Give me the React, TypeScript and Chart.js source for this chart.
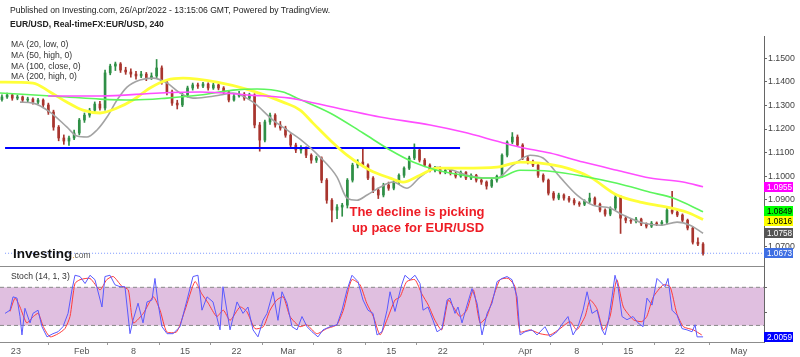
import React, { useEffect, useRef } from 'react';
import { Chart, registerables } from 'chart.js';

Chart.register(...registerables);

const FONT = '"Liberation Sans", Arial, Helvetica, sans-serif';

// ---- x axis: trading days since Sun 23 Jan 2022 (weekends removed) ----
const X_MIN = -1.94;
const X_MAX = 72.16;
const xTickDays = [-0.4, 6, 11, 16, 21, 26, 31, 36, 41, 49, 54, 59, 64, 69.7];
const xTickLabels = ['23', 'Feb', '8', '15', '22', 'Mar', '8', '15', '22', 'Apr', '8', '15', '22', 'May'];

// ---- price axis ----
const Y_MIN = 1.02966;
const Y_MAX = 1.15946;
const PANE_SPLIT = 1.0618;
const priceTicks = [1.15, 1.14, 1.13, 1.12, 1.11, 1.1, 1.09, 1.07];

// ---- stochastic axis ----
const S_MIN = -6.1;
const S_MAX = 475.8;
const stochTicks = [80, 40];
const STOCH_UPPER = 80;
const STOCH_LOWER = 20;

// ---- candles (12h resolution) ----
const FIRST_BAR_DAY = -1.75;
const BAR_DAYS = 0.5;
const opens = [
  1.1325, 1.1336, 1.1344, 1.1331, 1.1336, 1.1323, 1.1327, 1.1314, 1.1323, 1.1302,
  1.1272, 1.1208, 1.1162, 1.1149, 1.1162, 1.1183, 1.1238, 1.1259, 1.128, 1.1306,
  1.1289, 1.1438, 1.1467, 1.1476, 1.145, 1.1442, 1.1433, 1.1425, 1.1433, 1.1416,
  1.1425, 1.1459, 1.1399, 1.1357, 1.131, 1.1302, 1.1344, 1.1374, 1.1387, 1.1382,
  1.1391, 1.1374, 1.1387, 1.1374, 1.1357, 1.1323, 1.134, 1.1348, 1.1331, 1.1344,
  1.1217, 1.1153, 1.123, 1.1259, 1.1217, 1.1204, 1.1174, 1.1132, 1.1111, 1.1119,
  1.1089, 1.1068, 1.1077, 1.0983, 1.0898, 1.0856, 1.0869, 1.0877, 1.0983, 1.1047,
  1.106, 1.1047, 1.0992, 1.0941, 1.092, 1.0962, 1.0949, 1.0975, 1.1004, 1.1034,
  1.1077, 1.1111, 1.1068, 1.1047, 1.1025, 1.1034, 1.1017, 1.1025, 1.1012, 1.1,
  1.1017, 1.0992, 1.1004, 1.0983, 1.0975, 1.0958, 1.0983, 1.1, 1.1089, 1.1145,
  1.1166, 1.1132, 1.1077, 1.106, 1.1047, 1.1004, 1.0983, 1.0928, 1.0907, 1.092,
  1.0907, 1.0898, 1.0886, 1.0881, 1.0894, 1.0907, 1.0881, 1.0856, 1.0839, 1.0865,
  1.0911, 1.0822, 1.0813, 1.0809, 1.0818, 1.0797, 1.0788, 1.0801, 1.0797, 1.0805,
  1.0856, 1.0847, 1.0835, 1.0813, 1.078, 1.072, 1.0712,
];
const highs = [
  1.1345, 1.1352, 1.135, 1.1344, 1.134, 1.1335, 1.1332, 1.133, 1.1328, 1.131,
  1.128, 1.1215, 1.1175, 1.117, 1.1195, 1.1245, 1.1268, 1.1288, 1.1315, 1.1318,
  1.145, 1.1475, 1.1484, 1.1482, 1.1462, 1.1455, 1.1445, 1.1445, 1.144, 1.1438,
  1.1495, 1.1468, 1.1405, 1.1365, 1.1322, 1.1352, 1.1382, 1.1395, 1.1395, 1.1398,
  1.1396, 1.1395, 1.1392, 1.138, 1.1362, 1.1348, 1.136, 1.1355, 1.1352, 1.135,
  1.1228, 1.1238, 1.1268, 1.1265, 1.1232, 1.1212, 1.118, 1.114, 1.113, 1.1125,
  1.1095, 1.1085, 1.1082, 1.099, 1.0905, 1.088, 1.0885, 1.099, 1.1055, 1.107,
  1.112, 1.1052, 1.0998, 1.095, 1.097, 1.0975, 1.0982, 1.101, 1.104, 1.1085,
  1.1137, 1.1118, 1.1075, 1.1052, 1.1042, 1.104, 1.1032, 1.103, 1.1018, 1.1022,
  1.102, 1.101, 1.1008, 1.099, 1.098, 1.099, 1.1005, 1.1095, 1.115, 1.1185,
  1.1175, 1.1138, 1.1085, 1.1068, 1.1052, 1.101, 1.0988, 1.0935, 1.0928, 1.0925,
  1.0915, 1.0905, 1.0892, 1.09, 1.0928, 1.0912, 1.0886, 1.0862, 1.087, 1.0925,
  1.0918, 1.083, 1.082, 1.0825, 1.0822, 1.0802, 1.0808, 1.0806, 1.0812, 1.0865,
  1.0936, 1.0855, 1.084, 1.0818, 1.0785, 1.0738, 1.0718,
];
const lows = [
  1.1318, 1.133, 1.1322, 1.1324, 1.1315, 1.1316, 1.1305, 1.1308, 1.129, 1.1262,
  1.1195, 1.115, 1.1135, 1.113, 1.1155, 1.1175, 1.1228, 1.125, 1.1272, 1.128,
  1.128, 1.143, 1.1448, 1.144, 1.1432, 1.142, 1.1412, 1.1418, 1.1405, 1.141,
  1.1418, 1.139, 1.1345, 1.13, 1.1285, 1.1295, 1.1335, 1.1365, 1.1372, 1.1375,
  1.1365, 1.1368, 1.1366, 1.1348, 1.1315, 1.1318, 1.1335, 1.1322, 1.1325, 1.1205,
  1.1106, 1.1145, 1.122, 1.1208, 1.1195, 1.1165, 1.1125, 1.11, 1.1098, 1.1078,
  1.1055, 1.1058, 1.0972, 1.0885, 1.0806, 1.082, 1.083, 1.0865, 1.0975, 1.1035,
  1.104, 1.0985, 1.093, 1.0905, 1.0912, 1.094, 1.0942, 1.0968, 1.0995, 1.1028,
  1.107, 1.106, 1.104, 1.1018, 1.1018, 1.101, 1.101, 1.1005, 1.0992, 1.0995,
  1.0985, 1.0985, 1.0975, 1.0965, 1.0945, 1.0952, 1.0975, 1.0995, 1.1082, 1.1138,
  1.1125, 1.107, 1.1052, 1.104, 1.0995, 1.0975, 1.092, 1.0898, 1.09, 1.0898,
  1.089, 1.0878, 1.0872, 1.0875, 1.0888, 1.0875, 1.0848, 1.083, 1.0832, 1.0858,
  1.0757, 1.0802, 1.08, 1.0802, 1.079, 1.078, 1.0782, 1.079, 1.079, 1.0798,
  1.084, 1.0828, 1.0805, 1.0772, 1.0712, 1.0705, 1.0665,
];
const closes = [
  1.1336, 1.1344, 1.1331, 1.1336, 1.1323, 1.1327, 1.1314, 1.1323, 1.1302, 1.1272,
  1.1208, 1.1162, 1.1149, 1.1162, 1.1183, 1.1238, 1.1259, 1.128, 1.1306, 1.1289,
  1.1438, 1.1467, 1.1476, 1.145, 1.1442, 1.1433, 1.1425, 1.1433, 1.1416, 1.1425,
  1.1459, 1.1399, 1.1357, 1.131, 1.1302, 1.1344, 1.1374, 1.1387, 1.1382, 1.1391,
  1.1374, 1.1387, 1.1374, 1.1357, 1.1323, 1.134, 1.1348, 1.1331, 1.1344, 1.1217,
  1.1153, 1.123, 1.1259, 1.1217, 1.1204, 1.1174, 1.1132, 1.1111, 1.1119, 1.1089,
  1.1068, 1.1077, 1.0983, 1.0898, 1.0856, 1.0869, 1.0877, 1.0983, 1.1047, 1.106,
  1.1047, 1.0992, 1.0941, 1.092, 1.0962, 1.0949, 1.0975, 1.1004, 1.1034, 1.1077,
  1.1111, 1.1068, 1.1047, 1.1025, 1.1034, 1.1017, 1.1025, 1.1012, 1.1, 1.1017,
  1.0992, 1.1004, 1.0983, 1.0975, 1.0958, 1.0983, 1.1, 1.1089, 1.1145, 1.1166,
  1.1132, 1.1077, 1.106, 1.1047, 1.1004, 1.0983, 1.0928, 1.0907, 1.092, 1.0907,
  1.0898, 1.0886, 1.0881, 1.0894, 1.0907, 1.0881, 1.0856, 1.0839, 1.0865, 1.0911,
  1.0822, 1.0813, 1.0809, 1.0818, 1.0797, 1.0788, 1.0801, 1.0797, 1.0805, 1.0856,
  1.0847, 1.0835, 1.0813, 1.078, 1.072, 1.0712, 1.0673,
];

// ---- moving averages ----
const ma20Days = [0, 1.26, 2.91, 4.56, 5.53, 6.5, 7.47, 8.44, 9.41, 10.38, 11.64, 12.9, 14.26, 15.52, 16.78, 18.14, 19.4, 20.66, 22.6, 24.54, 26.19, 27.16, 29.1, 30.75, 31.72, 32.69, 33.66, 34.92, 36.18, 37.54, 38.8, 40.45, 42.0, 43.36, 45.3, 46.27, 47.82, 49.47, 50.73, 52.38, 54.03, 55.58, 57.23, 58.49, 60.43, 62.08, 63.73, 64.99, 66.25];
const ma20 = [1.1314, 1.131, 1.1272, 1.1208, 1.117, 1.1166, 1.1196, 1.1251, 1.1323, 1.1378, 1.1408, 1.1416, 1.1395, 1.1353, 1.1331, 1.1336, 1.1344, 1.1353, 1.1314, 1.1238, 1.1187, 1.1157, 1.1081, 1.0996, 1.0907, 1.0898, 1.092, 1.0953, 1.0975, 1.0949, 1.0996, 1.1038, 1.1025, 1.1004, 1.0992, 1.0992, 1.1047, 1.1089, 1.1077, 1.0996, 1.092, 1.0877, 1.0865, 1.0835, 1.0801, 1.0792, 1.0805, 1.0792, 1.0758];
const ma50Days = [-1.94, 1.26, 2.91, 4.56, 6.11, 7.76, 9.41, 10.96, 12.61, 14.26, 15.81, 19.11, 22.31, 25.51, 27.16, 28.42, 30.07, 31.72, 33.95, 35.89, 37.15, 38.8, 40.45, 42.97, 46.27, 48.5, 50.44, 53.06, 55.29, 57.9, 60.14, 62.75, 64.69, 66.25];
const ma50 = [1.1399, 1.1395, 1.1357, 1.1314, 1.128, 1.1268, 1.1289, 1.1323, 1.1374, 1.1408, 1.1416, 1.1399, 1.1365, 1.1314, 1.128, 1.1225, 1.1153, 1.1089, 1.1025, 1.0992, 1.0975, 1.1004, 1.1034, 1.1034, 1.1038, 1.106, 1.1055, 1.1034, 1.0996, 1.092, 1.089, 1.0869, 1.0847, 1.0816];
const ma100Days = [-1.94, 4.56, 7.76, 10.96, 14.26, 17.46, 20.66, 22.99, 25.51, 26.87, 30.07, 33.27, 35.89, 38.12, 40.45, 42.97, 44.62, 46.27, 48.5, 51.41, 54.61, 57.9, 61.11, 63.34, 66.25];
const ma100 = [1.1353, 1.1336, 1.1327, 1.1323, 1.1331, 1.1344, 1.1365, 1.137, 1.1357, 1.1331, 1.1268, 1.1183, 1.1111, 1.106, 1.1025, 1.1004, 1.0992, 1.0992, 1.1025, 1.1021, 1.1, 1.097, 1.0932, 1.0907, 1.0849];
const ma200Days = [2.72, 7.76, 13.58, 17.46, 22.31, 26.19, 27.16, 31.72, 34.92, 39.77, 42.97, 46.56, 48.5, 51.41, 54.61, 57.9, 61.11, 64.31, 66.25];
const ma200 = [1.134, 1.134, 1.1353, 1.1357, 1.1344, 1.1331, 1.1323, 1.128, 1.1251, 1.1217, 1.1187, 1.1145, 1.1123, 1.1098, 1.106, 1.1025, 1.0992, 1.0975, 1.0955];

// ---- horizontal support / resistance ----
const supportLevel = 1.112;
const supportFrom = -1.45;
const supportTo = 42.68;

// ---- stochastic (14,1,3) ----
const stochKDays = [
  -1.45, -0.97, -0.68, -0.29, 0, 0.19, 0.48, 0.97, 1.26, 1.75, 2.13, 2.62, 3.2, 3.69, 4.17, 4.66, 5.04, 5.33, 5.82, 6.31,
  6.79, 7.27, 7.95, 8.24, 8.73, 9.21, 9.7, 10.18, 10.67, 10.96, 11.45, 11.93, 12.32, 12.8, 13.09, 13.39, 13.77, 14.26, 14.84, 15.52,
  16.2, 16.78, 17.26, 17.65, 18.14, 18.72, 19.4, 19.69, 20.37, 21.05, 21.63, 22.11, 22.6, 23.08, 23.57, 23.96, 24.54, 25.02, 25.41, 25.9,
  26.38, 26.87, 27.35, 27.84, 28.32, 28.9, 29.39, 30.07, 30.75, 31.23, 31.72, 32.2, 32.78, 33.27, 33.75, 34.24, 34.63, 35.11, 35.6, 35.89,
  36.37, 37.02, 37.34, 37.83, 38.31, 38.8, 39.09, 39.57, 40.06, 40.45, 40.93, 41.42, 41.71, 42.19, 42.48, 42.87, 43.36, 43.84, 44.33, 44.81,
  45.3, 45.78, 46.27, 46.75, 47.24, 47.72, 48.21, 48.5, 48.98, 49.66, 50.15, 50.92, 51.41, 52.09, 52.67, 53.15, 53.64, 54.12, 54.61, 55.0,
  55.48, 55.97, 56.45, 56.74, 57.03, 57.42, 57.71, 58.0, 58.39, 58.87, 59.46, 59.94, 60.43, 60.81, 61.3, 61.78, 62.27, 62.56, 62.85, 63.24,
  63.73, 64.21, 64.69, 65.18, 65.47, 65.67, 66.25,
];
const stochK = [
  39, 44, 65, 63, 34, 5, 47, 24, 39, 44, 18, 2, 7, 10, 18, 39, 76, 99, 97, 86,
  99, 92, 49, 97, 99, 84, 81, 81, 7, 28, 55, 24, 57, 60, 94, 55, 18, 7, 7, 18,
  60, 97, 99, 44, 65, 57, 13, 81, 13, 57, 39, 49, 13, 2, 28, 39, 73, 28, 73, 55,
  18, 13, 34, 18, 10, 2, 13, 18, 21, 44, 76, 99, 89, 60, 44, 39, 5, 10, 44, 73,
  42, 84, 99, 92, 99, 86, 44, 49, 28, 10, 15, 60, 63, 39, 49, 24, 52, 78, 55, 5,
  39, 55, 89, 94, 97, 92, 65, 5, 10, 13, 5, 18, 2, 10, 24, 34, 5, 18, 44, 73,
  39, 44, 13, 5, 24, 65, 99, 81, 34, 29, 34, 24, 18, 63, 52, 94, 86, 81, 94, 44,
  36, 15, 13, 10, 21, 2, 2.0059,
];
const stochDDays = [
  -0.97, -0.48, 0, 0.65, 1.29, 1.77, 2.26, 2.91, 3.71, 4.36, 4.85, 5.33, 5.82, 6.79, 7.76, 8.41, 9.05, 9.86, 10.5, 10.99,
  11.96, 12.93, 13.58, 14.23, 15.2, 16.0, 16.97, 17.62, 18.26, 19.08, 19.72, 20.37, 21.34, 21.99, 22.79, 23.6, 24.25, 24.9, 25.54, 26.19,
  27.16, 27.81, 28.78, 29.75, 30.72, 31.36, 32.17, 32.98, 33.63, 34.27, 34.92, 35.57, 36.37, 36.86, 37.51, 38.31, 38.96, 39.6, 40.25, 40.9,
  41.54, 42.03, 42.68, 43.33, 43.97, 44.62, 45.27, 45.91, 46.56, 47.36, 48.01, 48.5, 49.47, 50.44, 51.41, 52.38, 53.35, 54.0, 54.8, 55.29,
  55.94, 56.58, 57.23, 57.88, 58.52, 59.49, 60.3, 60.79, 61.43, 62.4, 63.05, 63.7, 64.34, 65.31, 66.12,
];
const stochD = [
  42, 63, 49, 24, 34, 39, 18, 2, 7, 15, 34, 86, 92, 94, 76, 92, 97, 82, 76, 24,
  39, 65, 44, 10, 10, 44, 89, 70, 55, 34, 44, 28, 49, 42, 15, 18, 44, 60, 65, 34,
  18, 21, 7, 15, 21, 44, 92, 84, 55, 34, 5, 28, 60, 65, 89, 92, 70, 52, 28, 13,
  60, 49, 34, 44, 76, 24, 34, 65, 92, 94, 81, 10, 13, 7, 5, 15, 26, 13, 34, 60,
  47, 13, 34, 92, 49, 29, 26, 34, 65, 84, 81, 39, 18, 13, 5,
];

const headerLine1 = 'Published on Investing.com, 26/Apr/2022 - 13:15:06 GMT, Powered by TradingView.';
const headerLine2 = 'EUR/USD, Real-timeFX:EUR/USD, 240';
const legendLines = ['MA (20, low, 0)', 'MA (50, high, 0)', 'MA (100, close, 0)', 'MA (200, high, 0)'];
const stochTitle = 'Stoch (14, 1, 3)';
const noteLines = ['The decline is picking', 'up pace for EUR/USD'];

const UP = '#2f8f46';
const DOWN = '#a8352e';
const C_MA20 = '#a3a3a3';
const C_MA50 = '#ffff38';
const C_MA100 = '#5cf55c';
const C_MA200 = '#ff4dff';

const pts = (xs: number[], ys: number[]) => xs.map((x, i) => ({ x, y: ys[i] }));

const overlayPlugin = {
  id: 'overlay',
  afterDraw(chart: any) {
    const { ctx, chartArea, scales } = chart;
    const y = scales.y;
    const y2 = scales.y2;
    ctx.save();

    // pane separator
    const sep = Math.round(y.getPixelForValue(PANE_SPLIT)) + 0.5;
    ctx.strokeStyle = '#8c8c8c';
    ctx.lineWidth = 1;
    ctx.beginPath();
    ctx.moveTo(chartArea.left, sep);
    ctx.lineTo(chartArea.right, sep);
    ctx.stroke();

    // header
    ctx.textBaseline = 'middle';
    ctx.textAlign = 'left';
    ctx.fillStyle = '#222';
    ctx.font = `8.6px ${FONT}`;
    ctx.fillText(headerLine1, 10, 11);
    ctx.font = `bold 8.6px ${FONT}`;
    ctx.fillText(headerLine2, 10, 25);

    ctx.font = `8.6px ${FONT}`;
    ctx.fillStyle = '#333';
    legendLines.forEach((t, i) => ctx.fillText(t, 11, 45 + i * 10.6));
    ctx.fillText(stochTitle, 11, 276.5);

    // logo
    ctx.textBaseline = 'alphabetic';
    ctx.font = `bold 13.5px ${FONT}`;
    ctx.fillStyle = '#111';
    ctx.fillText('Investing', 13, 258);
    const w = ctx.measureText('Investing').width;
    ctx.font = `8.5px ${FONT}`;
    ctx.fillStyle = '#f39c12';
    ctx.fillText('.', 13 + w, 258);
    const wd = ctx.measureText('.').width;
    ctx.fillStyle = '#555';
    ctx.fillText('com', 13 + w + wd, 258);

    // annotation
    ctx.textAlign = 'center';
    ctx.textBaseline = 'middle';
    ctx.font = `bold 13px ${FONT}`;
    ctx.fillStyle = '#ee1c25';
    ctx.fillText(noteLines[0], 417, 212);
    ctx.fillText(noteLines[1], 418, 228);

    // value boxes on the price axis
    const H = 10;
    const boxes = [
      { v: ma200[ma200.length - 1], bg: '#ff00ff', fg: '#ffffff' },
      { v: ma100[ma100.length - 1], bg: '#00ff00', fg: '#000000' },
      { v: ma50[ma50.length - 1], bg: '#ffff00', fg: '#000000' },
      { v: ma20[ma20.length - 1], bg: '#555555', fg: '#ffffff' },
      { v: closes[closes.length - 1], bg: '#3f6fe3', fg: '#ffffff' },
    ].map((b) => ({ ...b, py: y.getPixelForValue(b.v) }));
    boxes.sort((a, b) => a.py - b.py);
    for (let k = 0; k < 4; k++) {
      for (let i = 1; i < boxes.length; i++) {
        const d = boxes[i].py - boxes[i - 1].py;
        if (d < H) {
          const s = (H - d) / 2;
          boxes[i - 1].py -= s;
          boxes[i].py += s;
        }
      }
    }
    const drawBox = (py: number, bg: string, fg: string, text: string) => {
      const top = Math.round(py - H / 2);
      ctx.fillStyle = bg;
      ctx.fillRect(chartArea.right, top, 29, H);
      ctx.fillStyle = fg;
      ctx.font = `8.2px ${FONT}`;
      ctx.textAlign = 'left';
      ctx.textBaseline = 'middle';
      ctx.fillText(text, chartArea.right + 3, top + H / 2 + 0.5);
    };
    boxes.forEach((b) => drawBox(b.py, b.bg, b.fg, b.v.toFixed(4)));
    const lastK = stochK[stochK.length - 1];
    drawBox(y2.getPixelForValue(lastK), '#0000ff', '#ffffff', lastK.toFixed(4));

    ctx.restore();
  },
};

export default function App() {
  const ref = useRef<HTMLCanvasElement | null>(null);

  useEffect(() => {
    document.body.style.margin = '0';
    const canvas = ref.current;
    if (!canvas) return;

    const candleDays = closes.map((_, i) => FIRST_BAR_DAY + i * BAR_DAYS);
    const colors = closes.map((c, i) => (c >= opens[i] ? UP : DOWN));

    const chart = new Chart(canvas, {
      type: 'line',
      data: {
        datasets: [
          // stochastic band
          {
            type: 'line',
            data: [{ x: X_MIN, y: STOCH_UPPER }, { x: X_MAX, y: STOCH_UPPER }],
            yAxisID: 'y2',
            borderColor: '#8a8a8a',
            borderWidth: 1,
            borderDash: [4, 3],
            backgroundColor: '#e0bfe0',
            fill: { value: STOCH_LOWER },
            pointRadius: 0,
            order: 20,
          },
          {
            type: 'line',
            data: [{ x: X_MIN, y: STOCH_LOWER }, { x: X_MAX, y: STOCH_LOWER }],
            yAxisID: 'y2',
            borderColor: '#8a8a8a',
            borderWidth: 1,
            borderDash: [4, 3],
            fill: false,
            pointRadius: 0,
            order: 19,
          },
          {
            type: 'line',
            data: pts(stochDDays, stochD),
            yAxisID: 'y2',
            borderColor: '#ff3b3b',
            borderWidth: 1,
            pointRadius: 0,
            tension: 0.2,
            order: 2,
          },
          {
            type: 'line',
            data: pts(stochKDays, stochK),
            yAxisID: 'y2',
            borderColor: '#5a5aff',
            borderWidth: 1,
            pointRadius: 0,
            tension: 0,
            order: 1,
          },
          // candles
          {
            type: 'bar',
            data: candleDays.map((x, i) => ({ x, y: [lows[i], highs[i]] })),
            yAxisID: 'y',
            backgroundColor: colors,
            barThickness: 1,
            grouped: false,
            order: 12,
          } as any,
          {
            type: 'bar',
            data: candleDays.map((x, i) => ({ x, y: [Math.min(opens[i], closes[i]), Math.max(opens[i], closes[i])] })),
            yAxisID: 'y',
            backgroundColor: colors,
            barThickness: 2,
            minBarLength: 1,
            grouped: false,
            order: 11,
          } as any,
          // horizontal levels
          {
            type: 'line',
            data: [{ x: supportFrom, y: supportLevel }, { x: supportTo, y: supportLevel }],
            yAxisID: 'y',
            borderColor: '#0000ff',
            borderWidth: 2,
            pointRadius: 0,
            order: 9,
          },
          {
            type: 'line',
            data: [{ x: supportFrom, y: closes[closes.length - 1] }, { x: X_MAX, y: closes[closes.length - 1] }],
            yAxisID: 'y',
            borderColor: '#7d99ff',
            borderWidth: 1,
            borderDash: [1, 2],
            pointRadius: 0,
            order: 10,
          },
          // moving averages
          {
            type: 'line',
            data: pts(ma20Days, ma20),
            yAxisID: 'y',
            borderColor: C_MA20,
            borderWidth: 1.6,
            pointRadius: 0,
            cubicInterpolationMode: 'monotone',
            order: 6,
          },
          {
            type: 'line',
            data: pts(ma50Days, ma50),
            yAxisID: 'y',
            borderColor: C_MA50,
            borderWidth: 2.8,
            pointRadius: 0,
            cubicInterpolationMode: 'monotone',
            order: 5,
          },
          {
            type: 'line',
            data: pts(ma100Days, ma100),
            yAxisID: 'y',
            borderColor: C_MA100,
            borderWidth: 1.6,
            pointRadius: 0,
            cubicInterpolationMode: 'monotone',
            order: 4,
          },
          {
            type: 'line',
            data: pts(ma200Days, ma200),
            yAxisID: 'y',
            borderColor: C_MA200,
            borderWidth: 1.6,
            pointRadius: 0,
            cubicInterpolationMode: 'monotone',
            order: 3,
          },
        ],
      },
      options: {
        animation: false,
        responsive: false,
        events: [],
        layout: { padding: { top: 36, left: 0, right: 0, bottom: 0 } },
        plugins: {
          legend: { display: false },
          tooltip: { enabled: false },
          title: { display: false },
        },
        scales: {
          x: {
            type: 'linear',
            min: X_MIN,
            max: X_MAX,
            offset: false,
            afterBuildTicks: (s: any) => {
              s.ticks = xTickDays.map((v) => ({ value: v }));
            },
            afterFit: (s: any) => {
              s.height = 15;
            },
            ticks: {
              autoSkip: false,
              maxRotation: 0,
              padding: 1,
              color: '#555',
              font: { size: 9, family: FONT },
              callback: (_v: any, i: number) => xTickLabels[i],
            },
            grid: { drawOnChartArea: false, tickLength: 3, color: '#999' },
            border: { display: true, color: '#8c8c8c' },
          },
          y2: {
            type: 'linear',
            position: 'right',
            weight: 0,
            min: S_MIN,
            max: S_MAX,
            afterBuildTicks: (s: any) => {
              s.ticks = stochTicks.map((v) => ({ value: v }));
            },
            afterFit: (s: any) => {
              s.width = 0;
            },
            ticks: {
              autoSkip: false,
              padding: 1,
              color: '#444',
              font: { size: 8.8, family: FONT },
              callback: (v: any) => Number(v).toFixed(4),
            },
            grid: { drawOnChartArea: false, tickLength: 3, color: '#666' },
            border: { display: false },
          },
          y: {
            type: 'linear',
            position: 'right',
            weight: 1,
            min: Y_MIN,
            max: Y_MAX,
            afterBuildTicks: (s: any) => {
              s.ticks = priceTicks.map((v) => ({ value: v }));
            },
            afterFit: (s: any) => {
              s.width = 36;
            },
            ticks: {
              autoSkip: false,
              padding: 1,
              color: '#444',
              font: { size: 8.8, family: FONT },
              callback: (v: any) => Number(v).toFixed(4),
            },
            grid: { drawOnChartArea: false, tickLength: 3, color: '#666' },
            border: { display: true, color: '#666' },
          },
        },
      } as any,
      plugins: [overlayPlugin],
    });

    return () => chart.destroy();
  }, []);

  return (
    <canvas
      ref={ref}
      width={800}
      height={357}
      style={{ display: 'block', width: '800px', height: '357px' }}
    />
  );
}
